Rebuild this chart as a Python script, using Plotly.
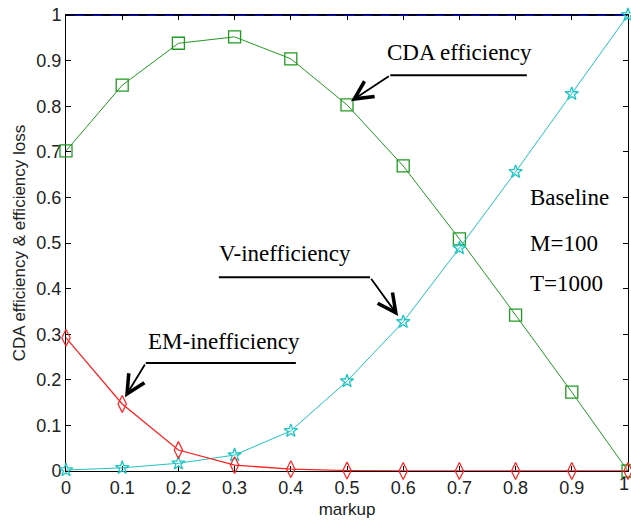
import plotly.graph_objects as go

markup = [0.0, 0.1, 0.2, 0.3, 0.4, 0.5, 0.6, 0.7, 0.8, 0.9, 1.0]
cda_eff = [0.702, 0.846, 0.938, 0.952, 0.904, 0.803, 0.669, 0.509, 0.342, 0.173, 0.0]
em_ineff = [0.292, 0.147, 0.046, 0.013, 0.004, 0.001, 0.0, 0.0, 0.0, 0.0, 0.0]
v_ineff = [0.002, 0.007, 0.017, 0.035, 0.088, 0.197, 0.327, 0.489, 0.656, 0.827, 1.0]
total = [1.0] * len(markup)

tick_vals_y = [0, 0.1, 0.2, 0.3, 0.4, 0.5, 0.6, 0.7, 0.8, 0.9, 1]
tick_text_y = ["0", "0.1", "0.2", "0.3", "0.4", "0.5", "0.6", "0.7", "0.8", "0.9", "1"]
tick_vals_x = markup
tick_text_x = ["0", "0.1", "0.2", "0.3", "0.4", "0.5", "0.6", "0.7", "0.8", "0.9", "1"]

GREEN = "#229922"
RED = "#ff2020"
CYAN = "#1fc4c4"

fig = go.Figure()
fig.add_trace(go.Scatter(x=markup, y=total, mode="lines",
                         line=dict(color="#0000ff", width=2), cliponaxis=False, showlegend=False))
fig.add_trace(go.Scatter(x=markup, y=total, mode="lines",
                         line=dict(color="black", width=1.3, dash="dash"), cliponaxis=False, showlegend=False))
fig.add_trace(go.Scatter(x=markup, y=cda_eff, mode="lines+markers",
                         line=dict(color=GREEN, width=1),
                         marker=dict(symbol="square-open", size=12, color=GREEN, line=dict(width=1.3, color=GREEN)),
                         cliponaxis=False, showlegend=False))
fig.add_trace(go.Scatter(x=markup, y=v_ineff, mode="lines+markers",
                         line=dict(color=CYAN, width=1),
                         marker=dict(symbol="star-open", size=10, color=CYAN, line=dict(width=1.3, color=CYAN)),
                         cliponaxis=False, showlegend=False))
fig.add_trace(go.Scatter(x=markup, y=em_ineff, mode="lines+markers",
                         line=dict(color=RED, width=1.3),
                         marker=dict(symbol="diamond-tall-open", size=12, color=RED, line=dict(width=1.2, color=RED)),
                         cliponaxis=False, showlegend=False))

serif = dict(family="Liberation Serif, Times New Roman, serif", size=23, color="black")
tick_family = "Liberation Sans Narrow, Liberation Sans, Arial, sans-serif"
axis_font = dict(family=tick_family, size=18, color="#222222")

annotations = [
    dict(x=0.701, y=0.917, text="CDA efficiency", showarrow=False, font=serif, xref="x", yref="y"),
    dict(x=0.39, y=0.476, text="V-inefficiency", showarrow=False, font=serif, xref="x", yref="y"),
    dict(x=0.281, y=0.285, text="EM-inefficiency", showarrow=False, font=serif, xref="x", yref="y"),
    dict(x=0.822, y=0.599, text="Baseline", showarrow=False, font=serif, xanchor="left", xref="x", yref="y"),
    dict(x=0.822, y=0.500, text="M=100", showarrow=False, font=serif, xanchor="left", xref="x", yref="y"),
    dict(x=0.822, y=0.412, text="T=1000", showarrow=False, font=serif, xanchor="left", xref="x", yref="y"),
    dict(x=0.507, y=0.811, ax=0.577, ay=0.868, axref="x", ayref="y", xref="x", yref="y",
         showarrow=True, arrowhead=5, arrowsize=2.0, arrowwidth=1.8, arrowcolor="black", text=""),
    dict(x=0.591, y=0.340, ax=0.541, ay=0.425, axref="x", ayref="y", xref="x", yref="y",
         showarrow=True, arrowhead=5, arrowsize=2.0, arrowwidth=1.8, arrowcolor="black", text=""),
    dict(x=0.105, y=0.162, ax=0.142, ay=0.237, axref="x", ayref="y", xref="x", yref="y",
         showarrow=True, arrowhead=5, arrowsize=2.0, arrowwidth=1.8, arrowcolor="black", text=""),
    # last x tick label, nudged left so it stays on the page
    dict(x=tick_vals_x[-1], y=0, xref="x", yref="paper", text=tick_text_x[-1], showarrow=False,
         xanchor="center", yanchor="top", yshift=-1, xshift=-4, font=axis_font),
]

shapes = [
    dict(type="line", x0=0.577, x1=0.820, y0=0.868, y1=0.868, xref="x", yref="y",
         line=dict(color="black", width=2)),
    dict(type="line", x0=0.272, x1=0.541, y0=0.425, y1=0.425, xref="x", yref="y",
         line=dict(color="black", width=2)),
    dict(type="line", x0=0.142, x1=0.409, y0=0.237, y1=0.237, xref="x", yref="y",
         line=dict(color="black", width=2)),
]

title_font = dict(family="Liberation Sans, Arial, sans-serif", size=17, color="#222222")

fig.update_layout(
    width=631, height=521,
    margin=dict(l=66, r=3, t=15, b=50, autoexpand=False),
    paper_bgcolor="white", plot_bgcolor="white",
    annotations=annotations, shapes=shapes,
    xaxis=dict(range=[0, 1], tickvals=tick_vals_x[:-1], ticktext=tick_text_x[:-1],
               showgrid=False, zeroline=False, showline=True, linecolor="black", linewidth=1,
               mirror="ticks", ticks="inside", ticklen=5, tickcolor="black",
               tickfont=axis_font, layer="below traces",
               title=dict(text="markup", font=title_font, standoff=6)),
    yaxis=dict(range=[0, 1], tickvals=tick_vals_y, ticktext=tick_text_y,
               showgrid=False, zeroline=False, showline=True, linecolor="black", linewidth=1,
               mirror="ticks", ticks="inside", ticklen=5, tickcolor="black",
               tickfont=axis_font, layer="below traces",
               title=dict(text="CDA efficiency & efficiency loss", font=title_font, standoff=6)),
)

fig.write_html("out.html")
